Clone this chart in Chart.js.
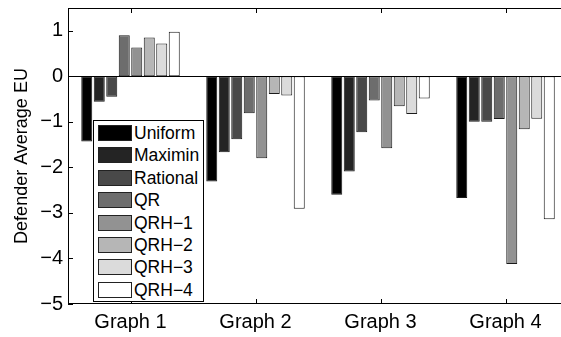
<!DOCTYPE html>
<html>
<head>
<meta charset="utf-8">
<script src="https://cdn.jsdelivr.net/npm/chart.js@4.4.1/dist/chart.umd.min.js"></script>
<style>
  html, body { margin: 0; padding: 0; background: #fff; overflow: hidden; }
  #wrap { position: relative; width: 561px; height: 337px; overflow: hidden; }
  #legend {
    position: absolute; left: 93px; top: 120px; width: 109px; height: 180px;
    border: 1px solid #000; background: #fff;
    font: 17.5px "Liberation Sans", Arial, sans-serif; color: #000;
  }
  .row { position: absolute; left: 0; height: 22.4px; width: 109px; }
  .sw { position: absolute; left: 4px; top: 3px; width: 32px; height: 14px; border: 1px solid #222; }
  .lbl { position: absolute; left: 40px; top: 0; line-height: 22.4px; white-space: nowrap; }
</style>
</head>
<body>
<div id="wrap">
  <canvas id="chart" width="570" height="337"></canvas>
  <div id="legend"></div>
</div>
<script>
const categories = ['Graph 1', 'Graph 2', 'Graph 3', 'Graph 4'];
const seriesNames = ['Uniform', 'Maximin', 'Rational', 'QR', 'QRH\u22121', 'QRH\u22122', 'QRH\u22123', 'QRH\u22124'];

const uniform  = [-1.43, -2.31, -2.60, -2.67];
const maximin  = [-0.56, -1.67, -2.09, -1.00];
const rational = [-0.45, -1.38, -1.23, -1.00];
const qr       = [ 0.90, -0.81, -0.53, -0.94];
const qrh1     = [ 0.63, -1.80, -1.58, -4.12];
const qrh2     = [ 0.85, -0.39, -0.66, -1.16];
const qrh3     = [ 0.72, -0.42, -0.83, -0.93];
const qrh4     = [ 0.98, -2.91, -0.49, -3.14];

const yTicks = [-5, -4, -3, -2, -1, 0, 1];

const seriesValues = [uniform, maximin, rational, qr, qrh1, qrh2, qrh3, qrh4];
const grays = ['#000000', '#242424', '#494949', '#6d6d6d', '#929292', '#b6b6b6', '#dbdbdb', '#ffffff'];
const FONT = '"Liberation Sans", Arial, sans-serif';

// box, zero line and inward tick marks like the matlab axes
const frame = {
  id: 'frame',
  afterDatasetsDraw(chart) {
    const { ctx, chartArea: a, scales: { x, y } } = chart;
    ctx.save();
    ctx.strokeStyle = '#000';
    ctx.lineWidth = 1;
    ctx.beginPath();
    const y0 = Math.round(y.getPixelForValue(0)) + 0.5;
    ctx.moveTo(a.left, y0);
    ctx.lineTo(a.right, y0);
    yTicks.forEach(v => {
      const py = Math.round(y.getPixelForValue(v)) + 0.5;
      ctx.moveTo(a.left, py); ctx.lineTo(a.left + 5, py);
      ctx.moveTo(a.right, py); ctx.lineTo(a.right - 5, py);
    });
    categories.forEach((c, i) => {
      const px = Math.round(x.getPixelForValue(i)) + 0.5;
      ctx.moveTo(px, a.bottom); ctx.lineTo(px, a.bottom - 5);
      ctx.moveTo(px, a.top); ctx.lineTo(px, a.top + 5);
    });
    ctx.stroke();
    ctx.strokeRect(Math.round(a.left) + 0.5, Math.round(a.top) + 0.5, Math.round(a.width) - 1, Math.round(a.height) - 1);
    ctx.restore();
  }
};

new Chart(document.getElementById('chart'), {
  type: 'bar',
  data: {
    labels: categories,
    datasets: seriesNames.map((name, i) => ({
      label: name,
      data: seriesValues[i],
      backgroundColor: grays[i],
      borderColor: '#1a1a1a',
      borderWidth: 1,
      borderSkipped: false,
      categoryPercentage: 0.8,
      barPercentage: 0.88
    }))
  },
  options: {
    responsive: false,
    animation: false,
    layout: { padding: { top: 8, right: 2, left: 0, bottom: 0 } },
    plugins: {
      legend: { display: false },
      tooltip: { enabled: false }
    },
    scales: {
      x: {
        grid: { display: false, drawTicks: false },
        border: { display: false },
        ticks: { color: '#000', padding: 6, font: { family: FONT, size: 20 } },
        afterFit: s => { s.height = 33; s.paddingLeft = 0; s.paddingRight = 0; }
      },
      y: {
        min: -5,
        max: 1.5,
        grid: { display: false, drawTicks: false },
        border: { display: false },
        afterBuildTicks: s => { s.ticks = yTicks.map(v => ({ value: v })); },
        afterFit: s => { s.width = 68; s.paddingTop = 0; s.paddingBottom = 0; },
        ticks: {
          color: '#000',
          padding: 5,
          font: { family: FONT, size: 20 },
          callback: v => String(v).replace('-', '\u2212')
        },
        title: {
          display: true,
          text: 'Defender Average EU',
          color: '#000',
          padding: { top: 11, bottom: 0 },
          font: { family: FONT, size: 18 }
        }
      }
    }
  },
  plugins: [frame]
});

// legend box inside the axes, lower left
const legend = document.getElementById('legend');
seriesNames.forEach((name, i) => {
  const row = document.createElement('div');
  row.className = 'row';
  row.style.top = (1 + i * 22.4) + 'px';
  const sw = document.createElement('div');
  sw.className = 'sw';
  sw.style.background = grays[i];
  const lbl = document.createElement('span');
  lbl.className = 'lbl';
  lbl.textContent = name;
  row.appendChild(sw);
  row.appendChild(lbl);
  legend.appendChild(row);
});
</script>
</body>
</html>
